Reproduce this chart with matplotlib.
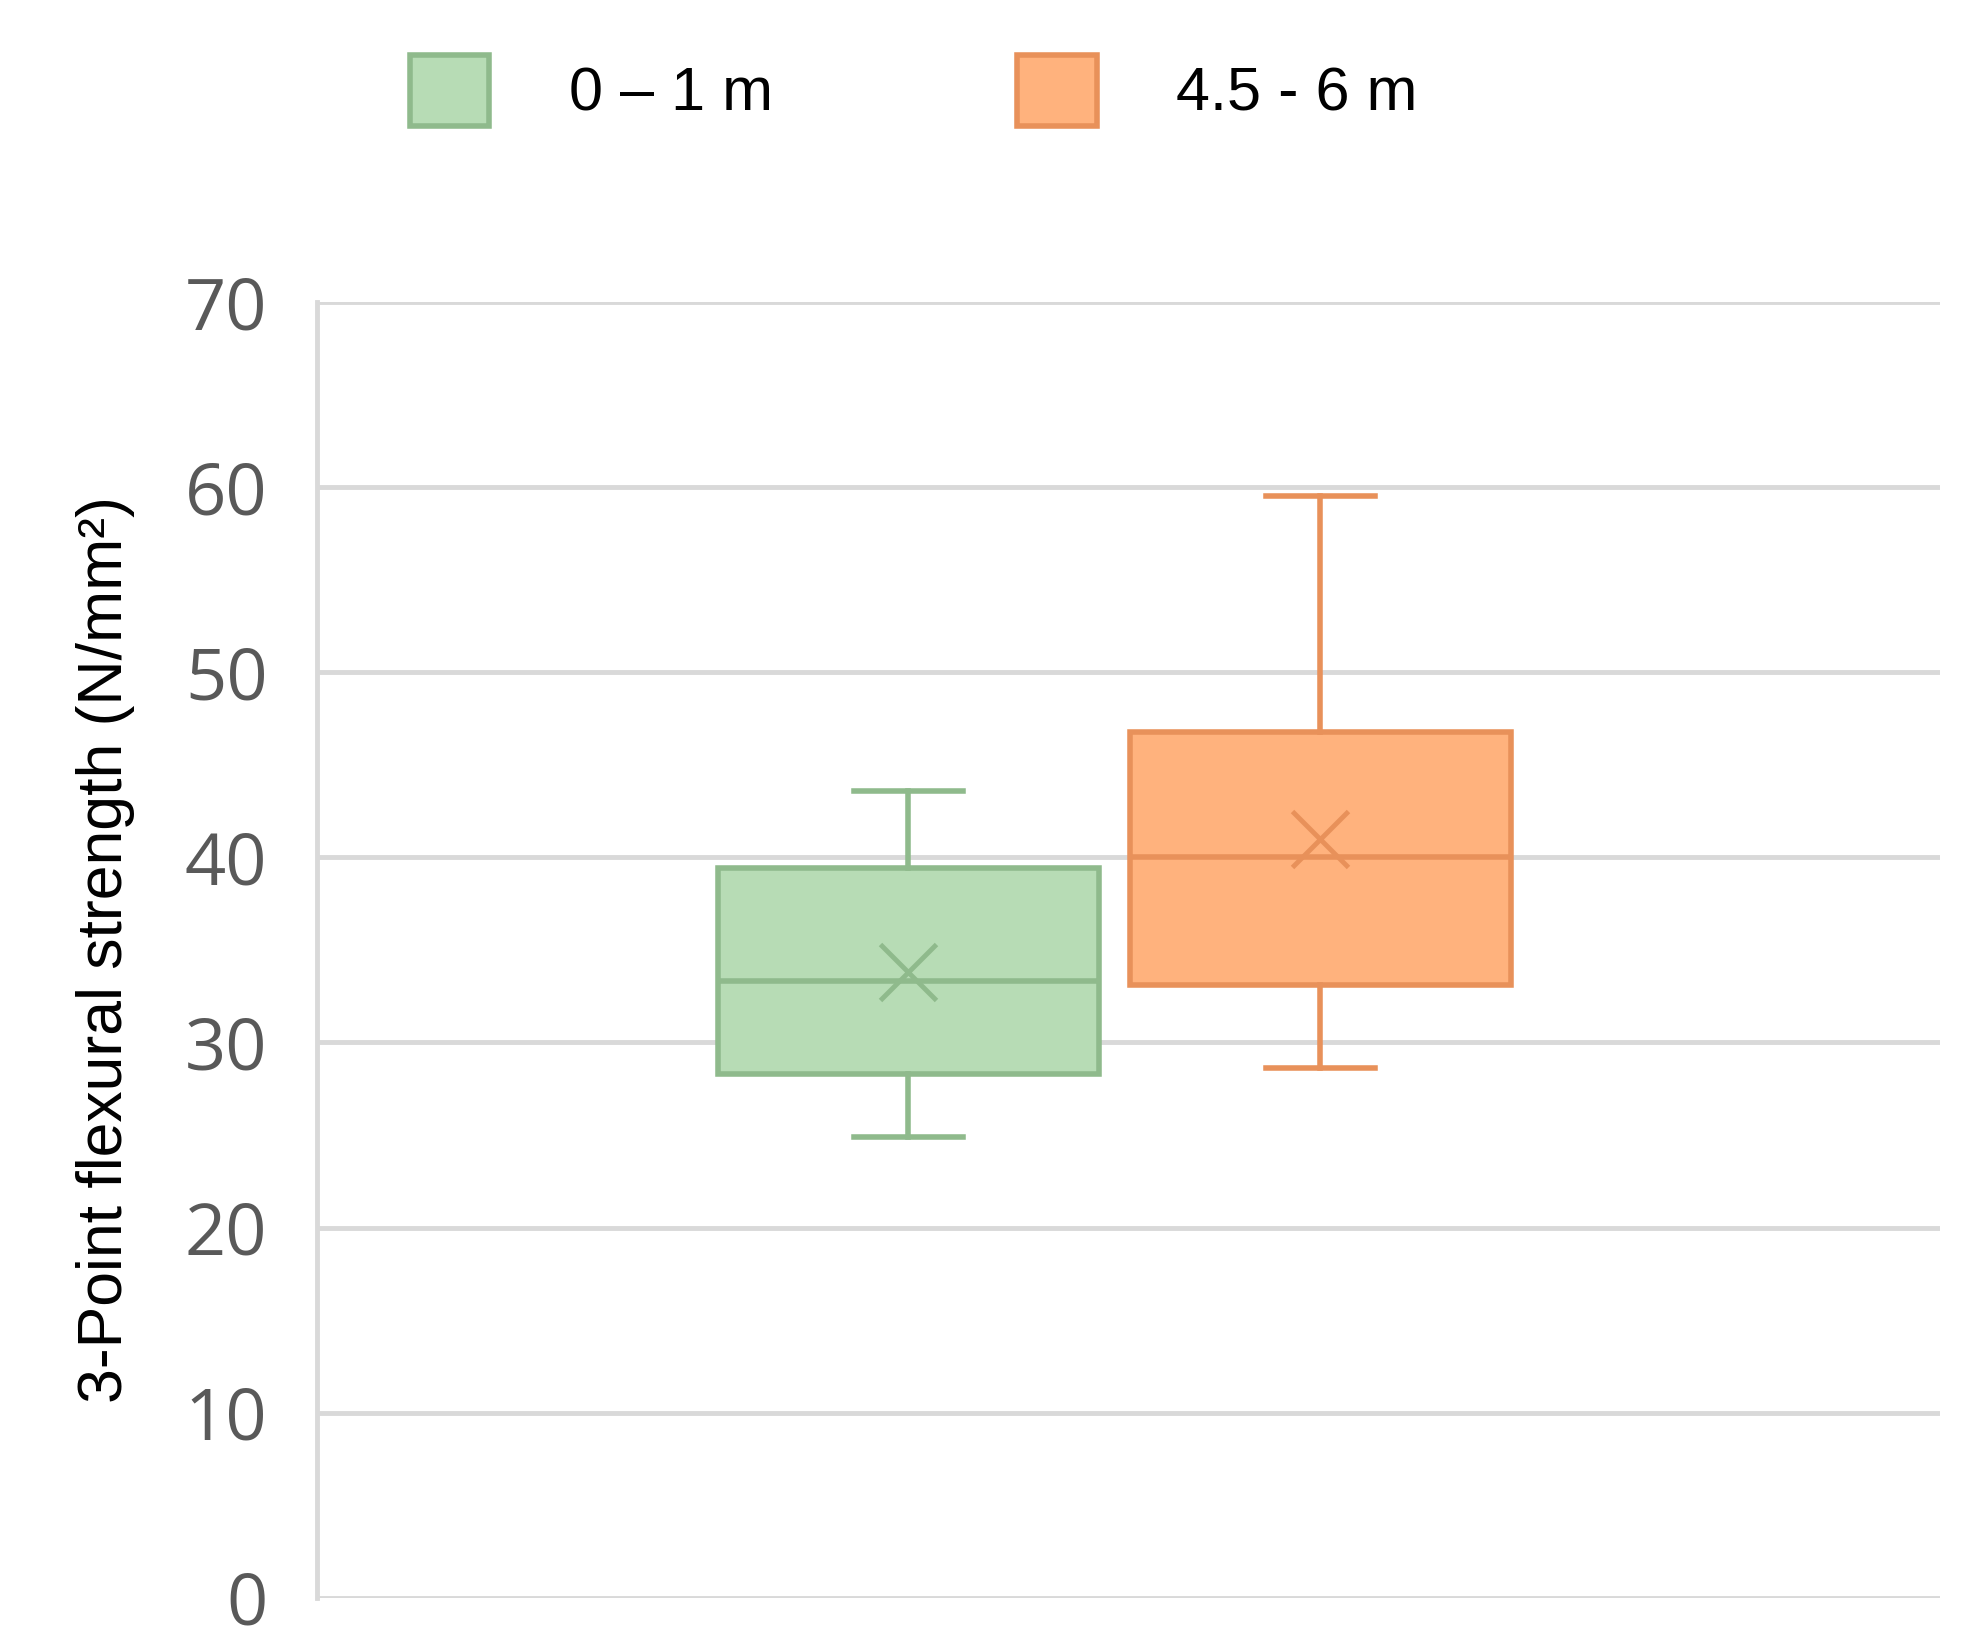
import matplotlib
matplotlib.use("Agg")
import matplotlib.pyplot as plt
from matplotlib.patches import Patch

labels = ["0 – 1 m", "4.5 - 6 m"]
whislo = [24.9, 28.6]
q1 = [28.3, 33.1]
med = [33.3, 40.0]
q3 = [39.4, 46.8]
whishi = [43.6, 59.5]
means = [33.8, 41.0]
fills = ["#b7dcb5", "#ffb27d"]
edges = ["#8fba8c", "#e8915a"]
yticks = [0, 10, 20, 30, 40, 50, 60, 70]

fig = plt.figure(figsize=(19.72, 16.42), dpi=100)
ax = fig.add_axes([0.161, 0.027, 0.823, 0.789])
pos = [0.364, 0.618]
for i in range(2):
    st = [dict(whislo=whislo[i], q1=q1[i], med=med[i], q3=q3[i], whishi=whishi[i], mean=means[i], fliers=[])]
    ax.bxp(st, positions=[pos[i]], widths=0.235, showmeans=True, patch_artist=True,
           boxprops=dict(facecolor=fills[i], edgecolor=edges[i], linewidth=4),
           medianprops=dict(color=edges[i], linewidth=4),
           whiskerprops=dict(color=edges[i], linewidth=4),
           capprops=dict(color=edges[i], linewidth=4), capwidths=0.067,
           meanprops=dict(marker="x", markeredgecolor=edges[i], markersize=40, markeredgewidth=3.5))
ax.set_xlim(0, 1)
ax.set_ylim(0, 70)
ax.set_yticks(yticks)
ax.set_xticks([])
ax.grid(axis="y", color="#d9d9d9", linewidth=3.5)
ax.set_axisbelow(True)
for s in ["top", "right", "bottom"]:
    ax.spines[s].set_visible(False)
ax.spines["left"].set_color("#d9d9d9"); ax.spines["left"].set_linewidth(3.5)
ax.tick_params(axis="y", length=0, labelsize=52, labelcolor="#595959", pad=36)
for t in ax.get_yticklabels():
    t.set_fontfamily("Open Sans")
ax.set_ylabel("3-Point flexural strength (N/mm²)", fontsize=45, family="Liberation Sans", labelpad=36)
handles = [Patch(facecolor=fills[i], edgecolor=edges[i], linewidth=4) for i in range(2)]
fig.legend(handles, labels, loc="upper left", bbox_to_anchor=(0.18, 1.0), ncol=2, frameon=False,
           prop=dict(family="Liberation Sans", size=44), handlelength=1.3, handleheight=1.4,
           columnspacing=4.0, handletextpad=1.3)
fig.savefig("out.png", dpi=100)
